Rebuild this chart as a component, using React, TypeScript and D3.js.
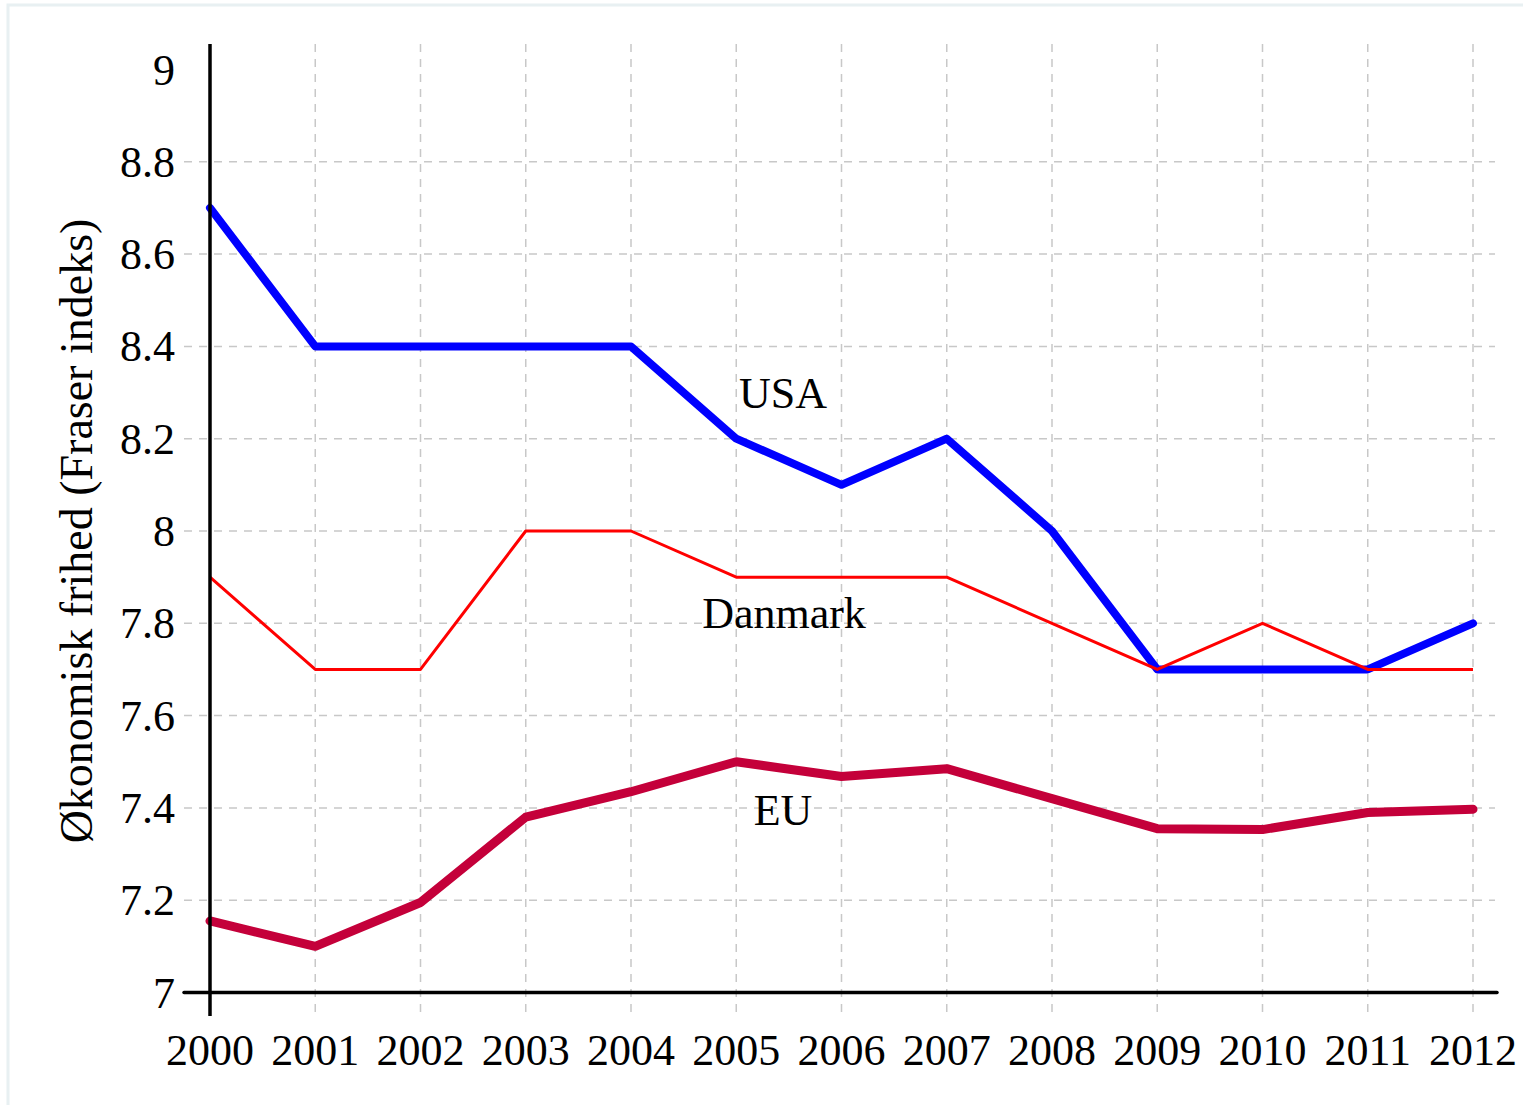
import React from 'react';
import * as d3 from 'd3';

const years = [2000, 2001, 2002, 2003, 2004, 2005, 2006, 2007, 2008, 2009, 2010, 2011, 2012];
const usa = [8.7, 8.4, 8.4, 8.4, 8.4, 8.2, 8.1, 8.2, 8.0, 7.7, 7.7, 7.7, 7.8];
const danmark = [7.9, 7.7, 7.7, 8.0, 8.0, 7.9, 7.9, 7.9, 7.8, 7.7, 7.8, 7.7, 7.7];
const eu = [7.155, 7.1, 7.195, 7.38, 7.435, 7.5, 7.468, 7.485, 7.42, 7.355, 7.353, 7.39, 7.397];
const yTicks = [7, 7.2, 7.4, 7.6, 7.8, 8, 8.2, 8.4, 8.6, 8.8, 9];

const width = 1523;
const height = 1105;
const font = '"Liberation Serif", "DejaVu Serif", serif';

export default function App() {
  const x = d3.scaleLinear().domain([2000, 2012]).range([210, 1473]);
  const y = d3.scaleLinear().domain([7, 9]).range([992.5, 69.5]);

  const line = (vals: number[]) =>
    d3.line<number>()
      .x((_, i) => x(years[i]))
      .y(d => y(d))(vals) || '';

  const plotTop = 44;
  const plotBottom = 1016;
  const plotLeft = 184;
  const plotRight = 1497;

  return (
    <svg width={width} height={height} style={{ position: 'absolute', left: 0, top: 0, background: '#fff' }}>
      <rect x={8} y={5} width={width + 10} height={height + 10} fill="none" stroke="#e8f0f2" strokeWidth={3} />

      {/* grid (no line at 7 or 9) */}
      {years.map(yr => (
        <line key={'vx' + yr} x1={x(yr)} x2={x(yr)} y1={plotTop} y2={plotBottom}
          stroke="#c8c8c8" strokeWidth={1.5} strokeDasharray="8,7" />
      ))}
      {yTicks.slice(1, -1).map(t => (
        <line key={'hy' + t} x1={plotLeft} x2={plotRight - 2} y1={y(t)} y2={y(t)}
          stroke="#c8c8c8" strokeWidth={1.5} strokeDasharray="8,7" />
      ))}

      {/* series */}
      <path d={line(eu)} fill="none" stroke="#c4003a" strokeWidth={9} strokeLinejoin="round" strokeLinecap="round" />
      <path d={line(usa)} fill="none" stroke="#0000ff" strokeWidth={8} strokeLinejoin="round" strokeLinecap="round" />
      <path d={line(danmark)} fill="none" stroke="#ff0000" strokeWidth={3} strokeLinejoin="round" strokeLinecap="butt" />

      {/* axes */}
      <line x1={210} x2={210} y1={plotTop} y2={plotBottom} stroke="#000" strokeWidth={3.5} />
      <line x1={plotLeft} x2={plotRight} y1={y(7)} y2={y(7)} stroke="#000" strokeWidth={3.5} strokeLinecap="round" />

      {/* tick labels */}
      {yTicks.map(t => (
        <text key={'yl' + t} x={175} y={y(t) + 15} textAnchor="end" fontFamily={font} fontSize={44} fill="#000">
          {d3.format('~g')(t)}
        </text>
      ))}
      {years.map(yr => (
        <text key={'xl' + yr} x={x(yr)} y={1065} textAnchor="middle" fontFamily={font} fontSize={44} fill="#000">
          {yr}
        </text>
      ))}

      {/* axis title */}
      <text transform="translate(92,531) rotate(-90)" textAnchor="middle" fontFamily={font} fontSize={46} fill="#000">
        Økonomisk frihed (Fraser indeks)
      </text>

      {/* series labels */}
      <text x={783} y={408} textAnchor="middle" fontFamily={font} fontSize={44} fill="#000">USA</text>
      <text x={784} y={628} textAnchor="middle" fontFamily={font} fontSize={44} fill="#000">Danmark</text>
      <text x={783} y={825} textAnchor="middle" fontFamily={font} fontSize={44} fill="#000">EU</text>
    </svg>
  );
}
